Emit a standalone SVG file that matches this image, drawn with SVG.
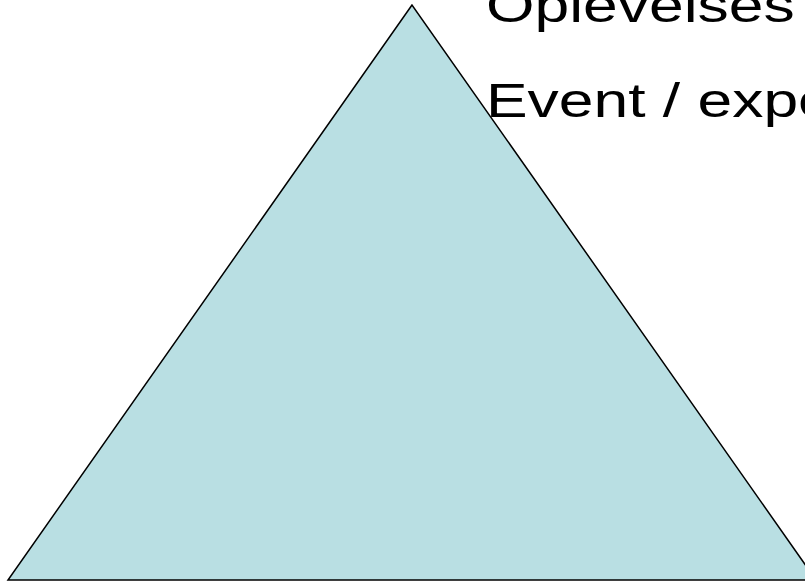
<svg xmlns="http://www.w3.org/2000/svg" width="805" height="583" viewBox="0 0 805 583">
<style>
.tri{fill:#b9dfe3;stroke:#000;stroke-width:1.5;stroke-linejoin:miter}
.t{font-family:"Liberation Sans",Arial,sans-serif;font-size:48px;fill:#000}
</style>
<rect width="805" height="583" fill="#fff"/>
<g id="pyramid">
<polygon class="tri" points="412,5 8,580 816,580"/>
</g>
<g id="labels">
<text class="t" transform="translate(486,22) scale(1.3,1)">Oplevelses</text>
<text class="t" transform="translate(486,117) scale(1.3,1)">Event / expe</text>
</g>
</svg>
